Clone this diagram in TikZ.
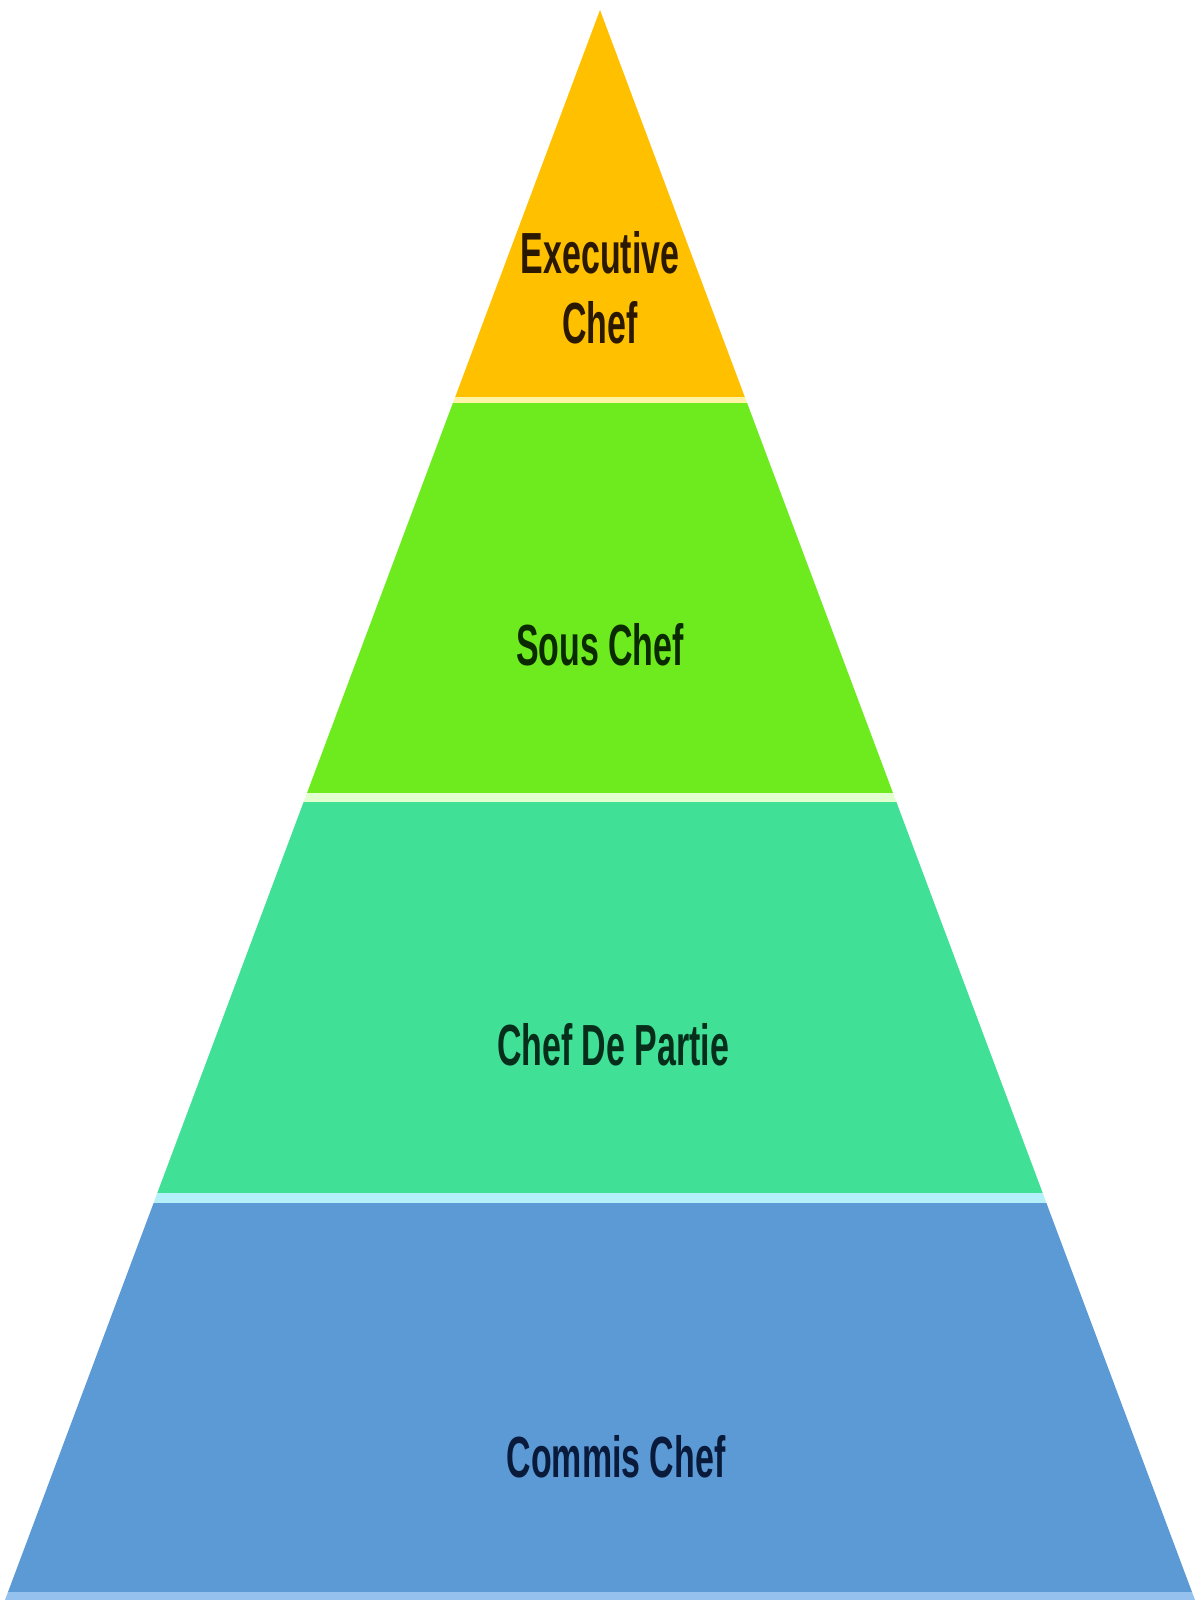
\documentclass[tikz,border=0pt]{standalone}
\usepackage{xcolor}
\usepackage{fontspec}
\usepackage{tikz}
\newfontfamily\tierfont{Liberation Sans}[FakeStretch=0.585]
\definecolor{bg}{HTML}{FFFFFF}
\definecolor{execfill}{HTML}{FFC000}
\definecolor{execrim}{HTML}{FFF3A6}
\definecolor{execink}{HTML}{2A1800}
\definecolor{sousfill}{HTML}{6DEB1E}
\definecolor{sousrim}{HTML}{E2FFD0}
\definecolor{sousink}{HTML}{0C2A00}
\definecolor{partiefill}{HTML}{40E197}
\definecolor{partierim}{HTML}{B4EFFA}
\definecolor{partieink}{HTML}{062E1A}
\definecolor{commisfill}{HTML}{5B9AD5}
\definecolor{commisrim}{HTML}{95C1EE}
\definecolor{commisink}{HTML}{0A1A3A}
\tikzset{
  tier/.style={line join=miter},
  rim/.style={line join=miter},
  tiertext/.style={
    font=\tierfont\bfseries\fontsize{29}{35}\selectfont,
    inner sep=0pt,
    align=center
  }
}
\begin{document}
\begin{tikzpicture}[x=0.5pt,y=-0.5pt]
  \useasboundingbox[fill=bg] (0,0) rectangle (1200,1600);

  % layers, top to bottom
  \fill[tier, execfill] (600,10) -- (744.8,397) -- (455.2,397) -- cycle;
  \fill[rim, execrim] (455.2,397) -- (744.8,397) -- (747.1,403) -- (452.9,403) -- cycle;

  \fill[tier, sousfill] (452.9,403) -- (747.1,403) -- (893.0,793) -- (307.0,793) -- cycle;
  \fill[rim, sousrim] (307.0,793) -- (893.0,793) -- (896.4,802) -- (303.6,802) -- cycle;

  \fill[tier, partiefill] (303.6,802) -- (896.4,802) -- (1042.7,1193) -- (157.3,1193) -- cycle;
  \fill[rim, partierim] (157.3,1193) -- (1042.7,1193) -- (1046.4,1203) -- (153.6,1203) -- cycle;

  \fill[tier, commisfill] (153.6,1203) -- (1046.4,1203) -- (1192,1592) -- (8,1592) -- cycle;
  \fill[rim, commisrim] (8,1592) -- (1192,1592) -- (1195,1600) -- (5,1600) -- cycle;

  % labels
  \node[tiertext, text=execink, anchor=base] (exec) at (600,343) {Executive\\Chef};
  \node[tiertext, text=sousink, anchor=base] (sous) at (600,665) {Sous Chef};
  \node[tiertext, text=partieink, anchor=base] (partie) at (613,1065) {Chef De Partie};
  \node[tiertext, text=commisink, anchor=base] (commis) at (616,1477) {Commis Chef};
\end{tikzpicture}
\end{document}
